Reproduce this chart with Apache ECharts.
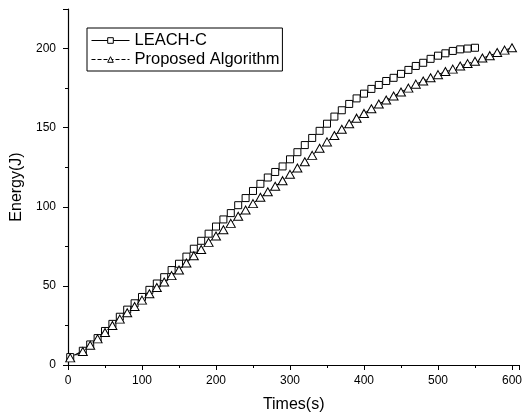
<!DOCTYPE html>
<html>
<head>
<meta charset="utf-8">
<script src="https://cdn.jsdelivr.net/npm/echarts@6/dist/echarts.min.js"></script>
<style>html,body{margin:0;padding:0;background:#fff}#c{width:525px;height:418px}</style>
</head>
<body>
<div id="c"></div>
<script>
var seriesNames = ['LEACH-C', 'Proposed Algorithm'];
var leachTimes = [3,20,30,40,50,60,70,80,90,100,110,120,130,140,150,160,170,180,190,200,210,220,230,240,250,260,270,280,290,300,310,320,330,340,350,360,370,380,390,400,410,420,430,440,450,460,470,480,490,500,510,520,530,540,550];
var leachEnergy = [5,9,13,17,21.5,26,30.5,35,39,43,47.5,51.5,55.5,60,64,68.5,73.5,78.5,83,87.5,92,96,101,105.5,110,114.5,118.5,122,125.5,130,134.5,139,143.5,148,152.5,157,161,165,168.5,171.5,174.5,177,179.5,181.5,184,186.5,189,191,193.5,195.5,197,198.5,199.5,200,200.5];
var propTimes = [3,20,30,40,50,60,70,80,90,100,110,120,130,140,150,160,170,180,190,200,210,220,230,240,250,260,270,280,290,300,310,320,330,340,350,360,370,380,390,400,410,420,430,440,450,460,470,480,490,500,510,520,530,540,550,560,570,580,590,600];
var propEnergy = [4.5,8.5,12.5,16.5,20.5,25,29,33,37,41,45,49,52.5,56.5,60,64.5,69,73,77.5,81.5,85.5,89.5,94,98,102,106,109.5,113,116.5,120.5,124.5,128.5,132.5,137,141,145,149,152.5,156,159,162,165,167.5,170,172.5,175,177.5,179.5,181.5,183.5,185.5,187,189,190.5,192,194,195.5,197.5,199,200.5];
var xTitle = 'Times(s)';
var yTitle = 'Energy(J)';

function pairs(xs, ys) { return xs.map(function (x, i) { return [x, ys[i]]; }); }

var chart = echarts.init(document.getElementById('c'), null, {renderer: 'canvas'});
var font = 'Liberation Sans, Arial, sans-serif';
chart.setOption({
  animation: false,
  backgroundColor: '#fff',
  textStyle: {fontFamily: font, color: '#000'},
  grid: {left: 68, right: 1, top: 9, bottom: 53},
  legend: {
    orient: 'vertical', left: 87, top: 28,
    padding: [4, 3, 3, 4], itemGap: 2, itemWidth: 38, itemHeight: 7,
    borderColor: '#000', borderWidth: 1,
    lineStyle: {width: 1},
    itemStyle: {borderWidth: 1},
    textStyle: {fontSize: 16.5, color: '#000', fontFamily: font},
    data: seriesNames
  },
  xAxis: {
    type: 'value', min: 0, max: 610, interval: 100,
    name: xTitle, nameLocation: 'middle', nameGap: 32,
    nameTextStyle: {fontSize: 16, color: '#000', fontFamily: font},
    axisLine: {show: true, lineStyle: {color: '#000', width: 1.2}},
    axisTick: {show: true, length: 5, inside: false, lineStyle: {color: '#000'}},
    minorTick: {show: true, splitNumber: 2, length: 3, lineStyle: {color: '#000'}},
    axisLabel: {fontSize: 12, color: '#000', margin: 10, fontFamily: font,
      formatter: function (v) { return v > 600 ? '' : v; }},
    splitLine: {show: false}
  },
  yAxis: {
    type: 'value', min: 0, max: 225, interval: 50,
    name: yTitle, nameLocation: 'middle', nameGap: 40, nameRotate: 90,
    nameTextStyle: {fontSize: 16, color: '#000', fontFamily: font},
    axisLine: {show: true, lineStyle: {color: '#000', width: 1.2}},
    axisTick: {show: true, length: 5, inside: false, lineStyle: {color: '#000'}},
    minorTick: {show: true, splitNumber: 2, length: 3, lineStyle: {color: '#000'}},
    axisLabel: {fontSize: 12, color: '#000', margin: 12, fontFamily: font,
      formatter: function (v) { return v > 200 ? '' : v; }},
    splitLine: {show: false}
  },
  series: [
    {
      name: seriesNames[0], type: 'line', data: pairs(leachTimes, leachEnergy),
      symbol: 'rect', symbolSize: 7, showAllSymbol: true,
      lineStyle: {color: '#000', width: 1},
      itemStyle: {color: '#fff', borderColor: '#000', borderWidth: 1}
    },
    {
      name: seriesNames[1], type: 'line', data: pairs(propTimes, propEnergy),
      symbol: 'triangle', symbolSize: [9, 8], showAllSymbol: true,
      lineStyle: {color: '#000', width: 1, type: [4, 2]},
      itemStyle: {color: '#fff', borderColor: '#000', borderWidth: 1}
    }
  ]
});
</script>
</body>
</html>
